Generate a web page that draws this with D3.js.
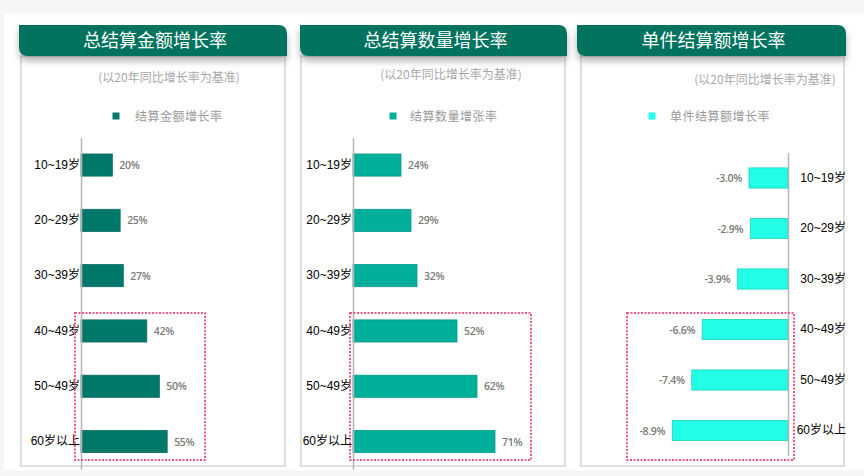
<!DOCTYPE html>
<html>
<head>
<meta charset="utf-8">
<script src="https://cdn.jsdelivr.net/npm/d3@7"></script>
<style>
  body { margin: 0; background: #f6f6f6; }
  svg { display: block; font-family: "Noto Sans CJK SC", "Liberation Sans", sans-serif; }
</style>
</head>
<body>
<svg id="chart"></svg>
<script>
const width = 864;
const height = 476;

const ageGroups = ["10~19岁", "20~29岁", "30~39岁", "40~49岁", "50~49岁", "60岁以上"];
const amountGrowth = [20, 25, 27, 42, 50, 55];
const countGrowth = [24, 29, 32, 52, 62, 71];
const unitGrowth = [-3.0, -2.9, -3.9, -6.6, -7.4, -8.9];

const titles = ["总结算金额增长率", "总结算数量增长率", "单件结算额增长率"];
const legendNames = ["结算金额增长率", "结算数量增张率", "单件结算额增长率"];
const subtitle = "(以20年同比增长率为基准)";

const svg = d3.select("#chart")
    .attr("width", width)
    .attr("height", height);

const defs = svg.append("defs");
defs.append("filter")
    .attr("id", "shadow")
    .attr("x", "-10%").attr("y", "-20%")
    .attr("width", "120%").attr("height", "170%")
    .append("feDropShadow")
    .attr("dx", 0).attr("dy", 5)
    .attr("stdDeviation", 3.5)
    .attr("flood-color", "#000")
    .attr("flood-opacity", 0.3);

svg.append("rect")
    .attr("x", 4).attr("y", 14)
    .attr("width", width - 4).attr("height", 456)
    .attr("fill", "#fff");

// panel layout (positions only)
const panels = [
    {
        data: amountGrowth, title: titles[0], legend: legendNames[0],
        color: "#00796b", stroke: "#0b6a5e",
        head: [19, 287], box: [21, 285], sub: [169, 78], leg: [116, 135],
        axisX: 81, xDomain: [0, 60], xLen: 94, yRange: [137.4, 469.2],
        side: "left", dash: [75, 313, 205, 460]
    },
    {
        data: countGrowth, title: titles[1], legend: legendNames[1],
        color: "#00b09b", stroke: "#079a88",
        head: [300, 567], box: [301, 565], sub: [451, 75], leg: [393, 410],
        axisX: 353, xDomain: [0, 75], xLen: 150, yRange: [137.4, 469.2],
        side: "left", dash: [350, 313, 531, 460]
    },
    {
        data: unitGrowth, title: titles[2], legend: legendNames[2],
        color: "#22ffe6", stroke: "#1fd0bd",
        head: [577, 846], box: [581, 844], sub: [765, 80], leg: [652, 670],
        axisX: 788, xDomain: [-10, 0], xLen: 130, yRange: [152.75, 455.75],
        side: "right", dash: [627, 313, 794, 460]
    }
];

panels.forEach(p => {
    const g = svg.append("g");

    // panel frame
    g.append("rect")
        .attr("x", p.box[0]).attr("y", 56)
        .attr("width", p.box[1] - p.box[0]).attr("height", 410)
        .attr("fill", "#fff")
        .attr("stroke", "#d4d4d4")
        .attr("stroke-width", 1.5);

    // header with rounded top-right and bottom-left
    const x0 = p.head[0], x1 = p.head[1], y0 = 25, y1 = 56, r = 9;
    g.append("path")
        .attr("d", `M${x0},${y0} H${x1 - r} Q${x1},${y0} ${x1},${y0 + r} V${y1} H${x0 + r} Q${x0},${y1} ${x0},${y1 - r} Z`)
        .attr("fill", "#00735f")
        .attr("filter", "url(#shadow)");
    g.append("text")
        .attr("x", (x0 + x1) / 2 + 2)
        .attr("y", 47)
        .attr("text-anchor", "middle")
        .attr("fill", "#fff")
        .style("font-size", "18px")
        .text(p.title);

    g.append("text")
        .attr("x", p.sub[0]).attr("y", p.sub[1] + 4)
        .attr("text-anchor", "middle")
        .attr("fill", "#a9a9a9")
        .style("font-size", "12px")
        .text(subtitle);

    // legend
    g.append("rect")
        .attr("x", p.leg[0] - 3.5).attr("y", 112.5)
        .attr("width", 7).attr("height", 7)
        .attr("fill", p.color);
    g.append("text")
        .attr("x", p.leg[1]).attr("y", 120.5)
        .attr("fill", "#9a9a9a")
        .style("font-size", "12px")
        .style("letter-spacing", "0.5px")
        .text(p.legend);

    const x = d3.scaleLinear()
        .domain(p.xDomain)
        .range(p.side === "left" ? [p.axisX, p.axisX + p.xLen] : [p.axisX - p.xLen, p.axisX]);

    const y = d3.scaleBand()
        .domain(ageGroups)
        .range(p.yRange)
        .paddingInner(0.6)
        .paddingOuter(0.3);

    const rows = ageGroups.map((a, i) => ({ age: a, value: p.data[i] }));

    g.selectAll(".bar")
        .data(rows)
        .enter().append("rect")
        .attr("class", "bar")
        .attr("x", d => Math.min(x(0), x(d.value)))
        .attr("y", d => y(d.age))
        .attr("width", d => Math.abs(x(d.value) - x(0)))
        .attr("height", y.bandwidth())
        .attr("fill", p.color)
        .attr("stroke", p.stroke)
        .attr("stroke-width", 0.8);

    g.selectAll(".val")
        .data(rows)
        .enter().append("text")
        .attr("class", "val")
        .attr("x", d => p.side === "left" ? x(d.value) + 7 : x(d.value) - 7)
        .attr("y", d => y(d.age) + y.bandwidth() / 2 + 4)
        .attr("text-anchor", p.side === "left" ? "start" : "end")
        .attr("fill", "#7a7a7a")
        .style("font-family", "'Open Sans', sans-serif")
        .style("font-size", "10.5px")
        .style("font-weight", "600")
        .style("letter-spacing", "-0.3px")
        .text(d => p.side === "left" ? d.value + "%" : d3.format(".1f")(d.value).replace("−", "-") + "%");

    const axis = p.side === "left"
        ? d3.axisLeft(y).tickSize(0).tickPadding(1)
        : d3.axisRight(y).tickSize(0);

    const ax = g.append("g")
        .attr("transform", `translate(${x(0)},0)`)
        .call(axis);
    ax.select(".domain")
        .attr("stroke", "#b5b5b5")
        .attr("stroke-width", 1.5);
    ax.selectAll("text")
        .attr("fill", "#000")
        .style("font-family", "'Liberation Sans', 'Noto Sans CJK SC', sans-serif")
        .style("font-size", "12px");
    if (p.side === "right") {
        ax.selectAll("text")
            .attr("x", 846 - p.axisX)
            .attr("text-anchor", "end");
    }

    // highlight box
    g.append("rect")
        .attr("x", p.dash[0]).attr("y", p.dash[1])
        .attr("width", p.dash[2] - p.dash[0]).attr("height", p.dash[3] - p.dash[1])
        .attr("fill", "none")
        .attr("stroke", "#ee5a88")
        .attr("stroke-width", 2)
        .attr("stroke-dasharray", "2,1.5");
});
</script>
</body>
</html>
